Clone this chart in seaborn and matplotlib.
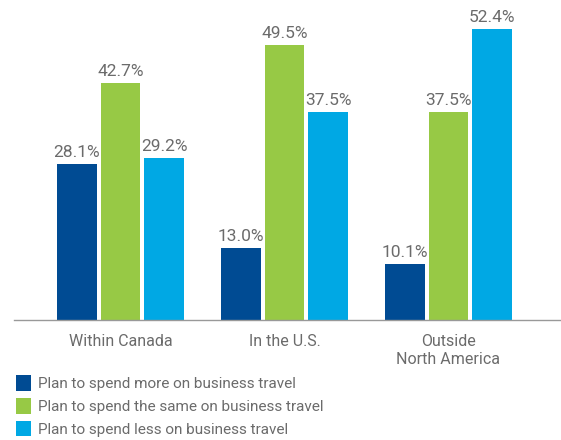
import matplotlib
matplotlib.use("Agg")
import matplotlib.pyplot as plt
import seaborn as sns
import pandas as pd
from matplotlib.patches import Patch

categories = ["Within Canada", "In the U.S.", "Outside\nNorth America"]
series = [
    "Plan to spend more on business travel",
    "Plan to spend the same on business travel",
    "Plan to spend less on business travel",
]
more = [28.1, 13.0, 10.1]
same = [42.7, 49.5, 37.5]
less = [29.2, 37.5, 52.4]
colors = ["#004B93", "#97C945", "#00A8E4"]
text_gray = "#6b6b6b"

df = pd.DataFrame({
    "category": categories * 3,
    "series": [series[0]] * 3 + [series[1]] * 3 + [series[2]] * 3,
    "value": more + same + less,
})

sns.set_theme(style="white")
plt.rcParams["font.family"] = ["Roboto", "DejaVu Sans"]

fig = plt.figure(figsize=(5.61, 4.40), dpi=100)
ax = fig.add_axes([14 / 561, 1 - 320 / 440, 547 / 561, 311 / 440])

sns.barplot(data=df, x="category", y="value", hue="series", hue_order=series,
            palette=colors, width=0.80, gap=0.09, saturation=1,
            linewidth=0, legend=False, ax=ax)

for cont in ax.containers:
    ax.bar_label(cont, labels=[f"{v:.1f}%" for v in cont.datavalues],
                 padding=3, color=text_gray, fontsize=12.5)

ax.set_xlim(-0.649, 2.686)
ax.set_ylim(0, 56)
ax.set_xlabel("")
ax.set_ylabel("")
ax.set_yticks([])
ax.tick_params(axis="x", length=0, pad=10, labelsize=11.5, labelcolor=text_gray)
for lbl in ax.get_xticklabels():
    lbl.set_linespacing(1.25)
for s in ["top", "right", "left"]:
    ax.spines[s].set_visible(False)
ax.spines["bottom"].set_color("#999999")
ax.spines["bottom"].set_linewidth(1)

handles = [Patch(facecolor=c, edgecolor="none") for c in colors]
fig.legend(handles, series, loc="upper left", bbox_to_anchor=(16 / 561, 1 - 375 / 440),
           frameon=False, prop={"size": 11}, labelcolor=text_gray,
           handlelength=1.0, handleheight=1.2, handletextpad=0.45,
           labelspacing=0.45, borderaxespad=0, borderpad=0)

fig.savefig("out.png", dpi=100)
